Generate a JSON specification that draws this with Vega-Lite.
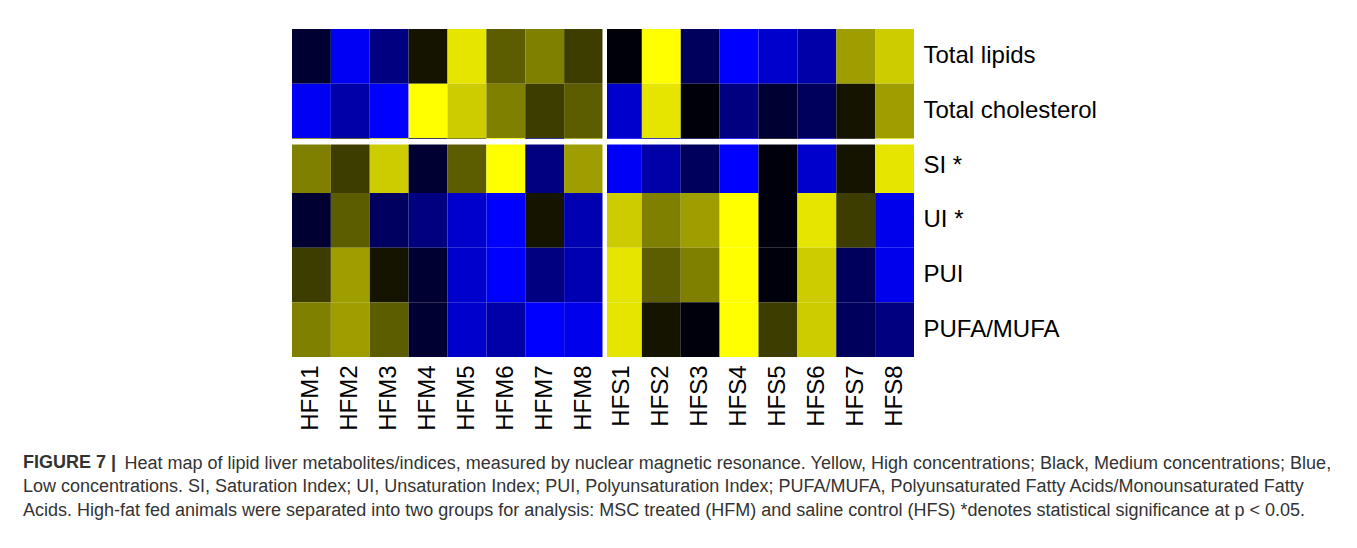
{
  "$schema": "https://vega.github.io/schema/vega-lite/v6.json",
  "width": 622,
  "height": 328,
  "autosize": {"type": "none"},
  "padding": {"left": 292, "top": 29, "right": 443, "bottom": 191},
  "background": "white",
  "config": {"view": {"stroke": null}, "font": "Liberation Sans"},
  "title": {
    "text": "FIGURE 7 |",
    "subtitle": [
      "Low concentrations. SI, Saturation Index; UI, Unsaturation Index; PUI, Polyunsaturation Index; PUFA/MUFA, Polyunsaturated Fatty Acids/Monounsaturated Fatty",
      "Acids. High-fat fed animals were separated into two groups for analysis: MSC treated (HFM) and saline control (HFS) *denotes statistical significance at p < 0.05."
    ],
    "orient": "bottom",
    "anchor": "start",
    "frame": "group",
    "font": "Liberation Sans",
    "fontSize": 18,
    "fontWeight": "bold",
    "color": "#333333",
    "subtitleFont": "Liberation Sans",
    "subtitleFontSize": 18,
    "subtitleFontWeight": "normal",
    "subtitleColor": "#333333",
    "subtitleLineHeight": 24,
    "subtitlePadding": 6,
    "dx": -269,
    "offset": -18
  },
  "layer": [
    {
      "data": {"values": [
        {"sample": "HFM1", "metric": "Total lipids", "value": -0.2},
        {"sample": "HFM1", "metric": "Total cholesterol", "value": -0.95},
        {"sample": "HFM1", "metric": "SI *", "value": 0.5},
        {"sample": "HFM1", "metric": "UI *", "value": -0.2},
        {"sample": "HFM1", "metric": "PUI", "value": 0.24},
        {"sample": "HFM1", "metric": "PUFA/MUFA", "value": 0.5},
        {"sample": "HFM2", "metric": "Total lipids", "value": -0.95},
        {"sample": "HFM2", "metric": "Total cholesterol", "value": -0.66},
        {"sample": "HFM2", "metric": "SI *", "value": 0.24},
        {"sample": "HFM2", "metric": "UI *", "value": 0.36},
        {"sample": "HFM2", "metric": "PUI", "value": 0.62},
        {"sample": "HFM2", "metric": "PUFA/MUFA", "value": 0.62},
        {"sample": "HFM3", "metric": "Total lipids", "value": -0.5},
        {"sample": "HFM3", "metric": "Total cholesterol", "value": -1},
        {"sample": "HFM3", "metric": "SI *", "value": 0.8},
        {"sample": "HFM3", "metric": "UI *", "value": -0.38},
        {"sample": "HFM3", "metric": "PUI", "value": 0.08},
        {"sample": "HFM3", "metric": "PUFA/MUFA", "value": 0.36},
        {"sample": "HFM4", "metric": "Total lipids", "value": 0.08},
        {"sample": "HFM4", "metric": "Total cholesterol", "value": 1},
        {"sample": "HFM4", "metric": "SI *", "value": -0.2},
        {"sample": "HFM4", "metric": "UI *", "value": -0.5},
        {"sample": "HFM4", "metric": "PUI", "value": -0.2},
        {"sample": "HFM4", "metric": "PUFA/MUFA", "value": -0.2},
        {"sample": "HFM5", "metric": "Total lipids", "value": 0.9},
        {"sample": "HFM5", "metric": "Total cholesterol", "value": 0.8},
        {"sample": "HFM5", "metric": "SI *", "value": 0.36},
        {"sample": "HFM5", "metric": "UI *", "value": -0.8},
        {"sample": "HFM5", "metric": "PUI", "value": -0.8},
        {"sample": "HFM5", "metric": "PUFA/MUFA", "value": -0.8},
        {"sample": "HFM6", "metric": "Total lipids", "value": 0.36},
        {"sample": "HFM6", "metric": "Total cholesterol", "value": 0.5},
        {"sample": "HFM6", "metric": "SI *", "value": 1},
        {"sample": "HFM6", "metric": "UI *", "value": -1},
        {"sample": "HFM6", "metric": "PUI", "value": -1},
        {"sample": "HFM6", "metric": "PUFA/MUFA", "value": -0.66},
        {"sample": "HFM7", "metric": "Total lipids", "value": 0.5},
        {"sample": "HFM7", "metric": "Total cholesterol", "value": 0.24},
        {"sample": "HFM7", "metric": "SI *", "value": -0.5},
        {"sample": "HFM7", "metric": "UI *", "value": 0.08},
        {"sample": "HFM7", "metric": "PUI", "value": -0.5},
        {"sample": "HFM7", "metric": "PUFA/MUFA", "value": -1},
        {"sample": "HFM8", "metric": "Total lipids", "value": 0.24},
        {"sample": "HFM8", "metric": "Total cholesterol", "value": 0.36},
        {"sample": "HFM8", "metric": "SI *", "value": 0.62},
        {"sample": "HFM8", "metric": "UI *", "value": -0.7},
        {"sample": "HFM8", "metric": "PUI", "value": -0.7},
        {"sample": "HFM8", "metric": "PUFA/MUFA", "value": -0.93},
        {"sample": "HFS1", "metric": "Total lipids", "value": -0.03},
        {"sample": "HFS1", "metric": "Total cholesterol", "value": -0.8},
        {"sample": "HFS1", "metric": "SI *", "value": -0.97},
        {"sample": "HFS1", "metric": "UI *", "value": 0.8},
        {"sample": "HFS1", "metric": "PUI", "value": 0.9},
        {"sample": "HFS1", "metric": "PUFA/MUFA", "value": 0.9},
        {"sample": "HFS2", "metric": "Total lipids", "value": 1},
        {"sample": "HFS2", "metric": "Total cholesterol", "value": 0.9},
        {"sample": "HFS2", "metric": "SI *", "value": -0.66},
        {"sample": "HFS2", "metric": "UI *", "value": 0.5},
        {"sample": "HFS2", "metric": "PUI", "value": 0.36},
        {"sample": "HFS2", "metric": "PUFA/MUFA", "value": 0.08},
        {"sample": "HFS3", "metric": "Total lipids", "value": -0.36},
        {"sample": "HFS3", "metric": "Total cholesterol", "value": -0.03},
        {"sample": "HFS3", "metric": "SI *", "value": -0.36},
        {"sample": "HFS3", "metric": "UI *", "value": 0.62},
        {"sample": "HFS3", "metric": "PUI", "value": 0.5},
        {"sample": "HFS3", "metric": "PUFA/MUFA", "value": -0.05},
        {"sample": "HFS4", "metric": "Total lipids", "value": -1},
        {"sample": "HFS4", "metric": "Total cholesterol", "value": -0.5},
        {"sample": "HFS4", "metric": "SI *", "value": -1},
        {"sample": "HFS4", "metric": "UI *", "value": 1},
        {"sample": "HFS4", "metric": "PUI", "value": 1},
        {"sample": "HFS4", "metric": "PUFA/MUFA", "value": 1},
        {"sample": "HFS5", "metric": "Total lipids", "value": -0.8},
        {"sample": "HFS5", "metric": "Total cholesterol", "value": -0.2},
        {"sample": "HFS5", "metric": "SI *", "value": -0.05},
        {"sample": "HFS5", "metric": "UI *", "value": -0.05},
        {"sample": "HFS5", "metric": "PUI", "value": -0.05},
        {"sample": "HFS5", "metric": "PUFA/MUFA", "value": 0.24},
        {"sample": "HFS6", "metric": "Total lipids", "value": -0.66},
        {"sample": "HFS6", "metric": "Total cholesterol", "value": -0.36},
        {"sample": "HFS6", "metric": "SI *", "value": -0.8},
        {"sample": "HFS6", "metric": "UI *", "value": 0.9},
        {"sample": "HFS6", "metric": "PUI", "value": 0.8},
        {"sample": "HFS6", "metric": "PUFA/MUFA", "value": 0.8},
        {"sample": "HFS7", "metric": "Total lipids", "value": 0.62},
        {"sample": "HFS7", "metric": "Total cholesterol", "value": 0.08},
        {"sample": "HFS7", "metric": "SI *", "value": 0.08},
        {"sample": "HFS7", "metric": "UI *", "value": 0.24},
        {"sample": "HFS7", "metric": "PUI", "value": -0.36},
        {"sample": "HFS7", "metric": "PUFA/MUFA", "value": -0.36},
        {"sample": "HFS8", "metric": "Total lipids", "value": 0.8},
        {"sample": "HFS8", "metric": "Total cholesterol", "value": 0.62},
        {"sample": "HFS8", "metric": "SI *", "value": 0.9},
        {"sample": "HFS8", "metric": "UI *", "value": -0.93},
        {"sample": "HFS8", "metric": "PUI", "value": -0.93},
        {"sample": "HFS8", "metric": "PUFA/MUFA", "value": -0.5}
      ]},
      "mark": {"type": "rect"},
      "encoding": {
        "x": {
          "field": "sample", "type": "nominal",
          "scale": {"domain": ["HFM1","HFM2","HFM3","HFM4","HFM5","HFM6","HFM7","HFM8","HFS1","HFS2","HFS3","HFS4","HFS5","HFS6","HFS7","HFS8"], "padding": 0},
          "axis": {
            "orient": "bottom",
            "title": "Heat map of lipid liver metabolites/indices, measured by nuclear magnetic resonance. Yellow, High concentrations; Black, Medium concentrations; Blue,",
            "titleX": -168, "titleY": 97, "titleAlign": "left", "titleAnchor": "start", "titleBaseline": "top", "titleAngle": 0,
            "titleFont": "Liberation Sans", "titleFontSize": 18, "titleFontWeight": "normal", "titleColor": "#333333", "titleLimit": 3000,
            "labelAngle": 270, "ticks": false, "domain": false, "labelPadding": 8, "labelFontSize": 24, "labelColor": "#000000", "labelFont": "Liberation Sans"
          }
        },
        "y": {
          "field": "metric", "type": "nominal",
          "scale": {"domain": ["Total lipids","Total cholesterol","SI *","UI *","PUI","PUFA/MUFA"], "padding": 0},
          "axis": {"orient": "right", "title": null, "ticks": false, "domain": false, "labelPadding": 9, "labelFontSize": 24, "labelColor": "#000000", "labelFont": "Liberation Sans"}
        },
        "color": {
          "field": "value", "type": "quantitative",
          "scale": {"domain": [-1, 0, 1], "range": ["#0000FF", "#000000", "#FFFF00"], "interpolate": "rgb"},
          "legend": null
        }
      }
    },
    {
      "data": {"values": [{"sample": "HFS1"}]},
      "mark": {"type": "rule", "color": "white", "strokeWidth": 4.5},
      "encoding": {"x": {"field": "sample", "type": "nominal", "bandPosition": 0.045}}
    },
    {
      "data": {"values": [{"metric": "SI *"}]},
      "mark": {"type": "rule", "color": "white", "strokeWidth": 5.5},
      "encoding": {"y": {"field": "metric", "type": "nominal", "bandPosition": 0.062}}
    }
  ]
}
